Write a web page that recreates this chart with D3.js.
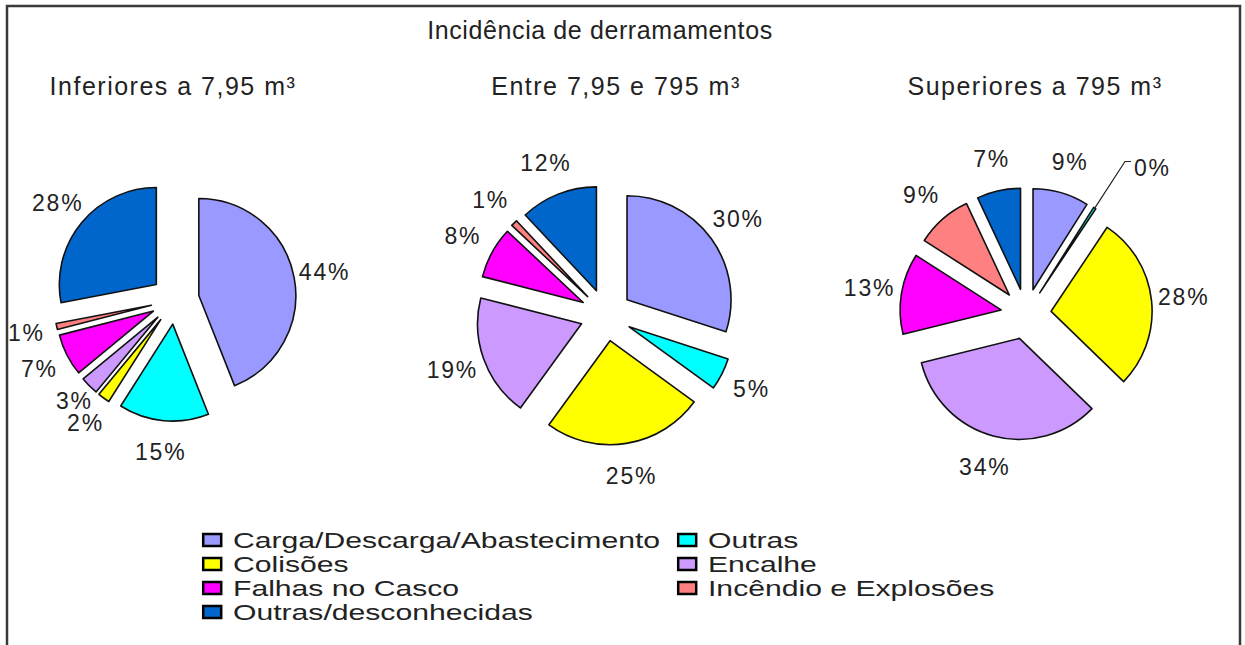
<!DOCTYPE html>
<html><head><meta charset="utf-8">
<script src="https://cdn.jsdelivr.net/npm/d3@7"></script>
<style>body{margin:0;background:#fff}</style>
</head><body><svg id="chart" width="1245" height="645"></svg>
<script>
const title = "Incidência de derramamentos";
const groups = ["Inferiores a 7,95 m³", "Entre 7,95 e 795 m³", "Superiores a 795 m³"];
const categories = ["Carga/Descarga/Abastecimento", "Outras", "Colisões", "Encalhe", "Falhas no Casco", "Incêndio e Explosões", "Outras/desconhecidas"];
const valuesInferiores = [44, 15, 2, 3, 7, 1, 28];
const valuesEntre = [30, 5, 25, 19, 8, 1, 12];
const valuesSuperiores = [9, 0.4, 28, 34, 13, 9, 7];
const seriesValues = [valuesInferiores, valuesEntre, valuesSuperiores];

const palette = ["#9999FF", "#00FFFF", "#FFFF00", "#CC99FF", "#FF00FF", "#FF8080", "#0066CC"];
const color = d3.scaleOrdinal().domain(categories).range(palette);

const font = "'Liberation Sans', Arial, sans-serif";
const ink = "#222";
const svg = d3.select("#chart");
svg.append("rect").attr("width", 1245).attr("height", 645).attr("fill", "#fff");
svg.append("path").attr("d", "M7,646V6H1240V646").attr("fill", "none")
  .attr("stroke", "#3a3a3a").attr("stroke-width", 2.5);

svg.append("text").attr("x", 600).attr("y", 39).attr("text-anchor", "middle")
  .style("font-family", font).style("font-size", "25px").style("letter-spacing", "0.6px")
  .attr("fill", ink).text(title);

const cxScale = d3.scaleOrdinal().domain(groups).range([175, 606, 1026]);
const cyScale = d3.scaleOrdinal().domain(groups).range([300, 315, 314]);
const rScale = d3.scaleOrdinal().domain(groups).range([97, 104, 101]);
const subX = d3.scaleOrdinal().domain(groups).range([173, 616, 1035]);

const pie = d3.pie().sort(null).value(d => d.value);
const fmt = d3.format(".0%");

groups.forEach((g, gi) => {
  const vals = seriesValues[gi];
  const total = d3.sum(vals);
  const data = categories.map((c, i) => ({ category: c, value: vals[i] }));
  const arcs = pie(data);
  const r = rScale(g), off = r * 0.25;
  const arc = d3.arc().innerRadius(0).outerRadius(r);

  svg.append("text").attr("x", subX(g)).attr("y", 95).attr("text-anchor", "middle")
    .style("font-family", font).style("font-size", "25px").style("letter-spacing", "1.5px")
    .attr("fill", ink).text(g);

  const gEl = svg.append("g").attr("transform", `translate(${cxScale(g)},${cyScale(g)})`);
  arcs.forEach(a => {
    a.mid = (a.startAngle + a.endAngle) / 2;
    a.dir = [Math.sin(a.mid), -Math.cos(a.mid)];
    a.apex = [a.dir[0] * off, a.dir[1] * off];
    a.share = a.data.value / total;
    a.tiny = a.share < 0.01 && a.data.value < 1;
  });

  gEl.selectAll("path.slice").data(arcs).join("path").attr("class", "slice")
    .attr("transform", d => `translate(${d.apex[0]},${d.apex[1]})`)
    .attr("d", arc)
    .attr("fill", d => color(d.data.category))
    .attr("stroke", "#111").attr("stroke-width", 1.6).attr("stroke-linejoin", "round");

  arcs.filter(a => a.tiny).forEach(a => {
    const s = [a.apex[0] + a.dir[0] * r, a.apex[1] + a.dir[1] * r];
    const e = [a.apex[0] + a.dir[0] * r * 1.55, a.apex[1] + a.dir[1] * r * 1.55];
    const sgn = a.dir[0] >= 0 ? 1 : -1;
    const f = [e[0] + sgn * 6, e[1]];
    gEl.append("path").attr("d", `M${s}L${e}L${f}`).attr("fill", "none")
      .attr("stroke", "#222").attr("stroke-width", 1.2);
    a.lx = f[0] + sgn * 3; a.ly = f[1] + 6; a.anchor = sgn > 0 ? "start" : "end";
  });
  arcs.filter(a => !a.tiny).forEach(a => {
    a.lx = a.apex[0] + a.dir[0] * r * 1.32;
    a.ly = a.apex[1] + a.dir[1] * r * 1.32;
    a.anchor = "middle";
  });

  const labels = gEl.selectAll("text.lbl").data(arcs).join("text").attr("class", "lbl")
    .attr("x", d => d.lx).attr("y", d => d.ly).attr("dy", "0.35em")
    .attr("text-anchor", d => d.anchor)
    .style("font-family", font).style("font-size", "23px").style("letter-spacing", "1.8px")
    .attr("fill", ink).text(d => fmt(d.share));

  // collision avoidance: move a label along its radius (in or out), smallest shift wins
  const nodes = labels.nodes();
  const boxes = [];
  const hit = b => boxes.some(o => b.x < o.x + o.width && b.x + b.width > o.x && b.y < o.y + o.height && b.y + b.height > o.y);
  const shrink = b => ({ x: b.x + 1, y: b.y + 2, width: b.width - 2, height: b.height - 4 });
  nodes.forEach((n, i) => {
    const a = arcs[i];
    const bb0 = n.getBBox();
    if (!a.tiny && hit(shrink(bb0))) {
      let best = null;
      for (let k = 1; k <= 40 && best === null; k++) {
        for (const sgn of [-1, 1]) {
          const dx = a.dir[0] * 2 * k * sgn, dy = a.dir[1] * 2 * k * sgn;
          const b = shrink({ x: bb0.x + dx, y: bb0.y + dy, width: bb0.width, height: bb0.height });
          if (!hit(b)) { best = [dx, dy]; break; }
        }
      }
      if (best) {
        a.lx += best[0]; a.ly += best[1];
        d3.select(n).attr("x", a.lx).attr("y", a.ly);
      }
    }
    boxes.push(shrink(n.getBBox()));
  });
});

// legend
const legX = d3.scaleOrdinal().domain([0, 1]).range([202, 677]);
const legY = d3.scaleLinear().domain([0, 1]).range([540, 564]);
const leg = svg.append("g").selectAll("g").data(categories).join("g")
  .attr("transform", (d, i) => `translate(${legX(i % 2)},${legY(Math.floor(i / 2))})`);
leg.append("rect").attr("x", 1.2).attr("y", -6).attr("width", 18).attr("height", 12)
  .attr("fill", d => color(d)).attr("stroke", "#000").attr("stroke-width", 2.5);
leg.append("text").attr("transform", "translate(31,0) scale(1.37,1)").attr("dy", "0.36em")
  .style("font-family", font).style("font-size", "22px")
  .attr("fill", ink).text(d => d);
</script></body></html>
